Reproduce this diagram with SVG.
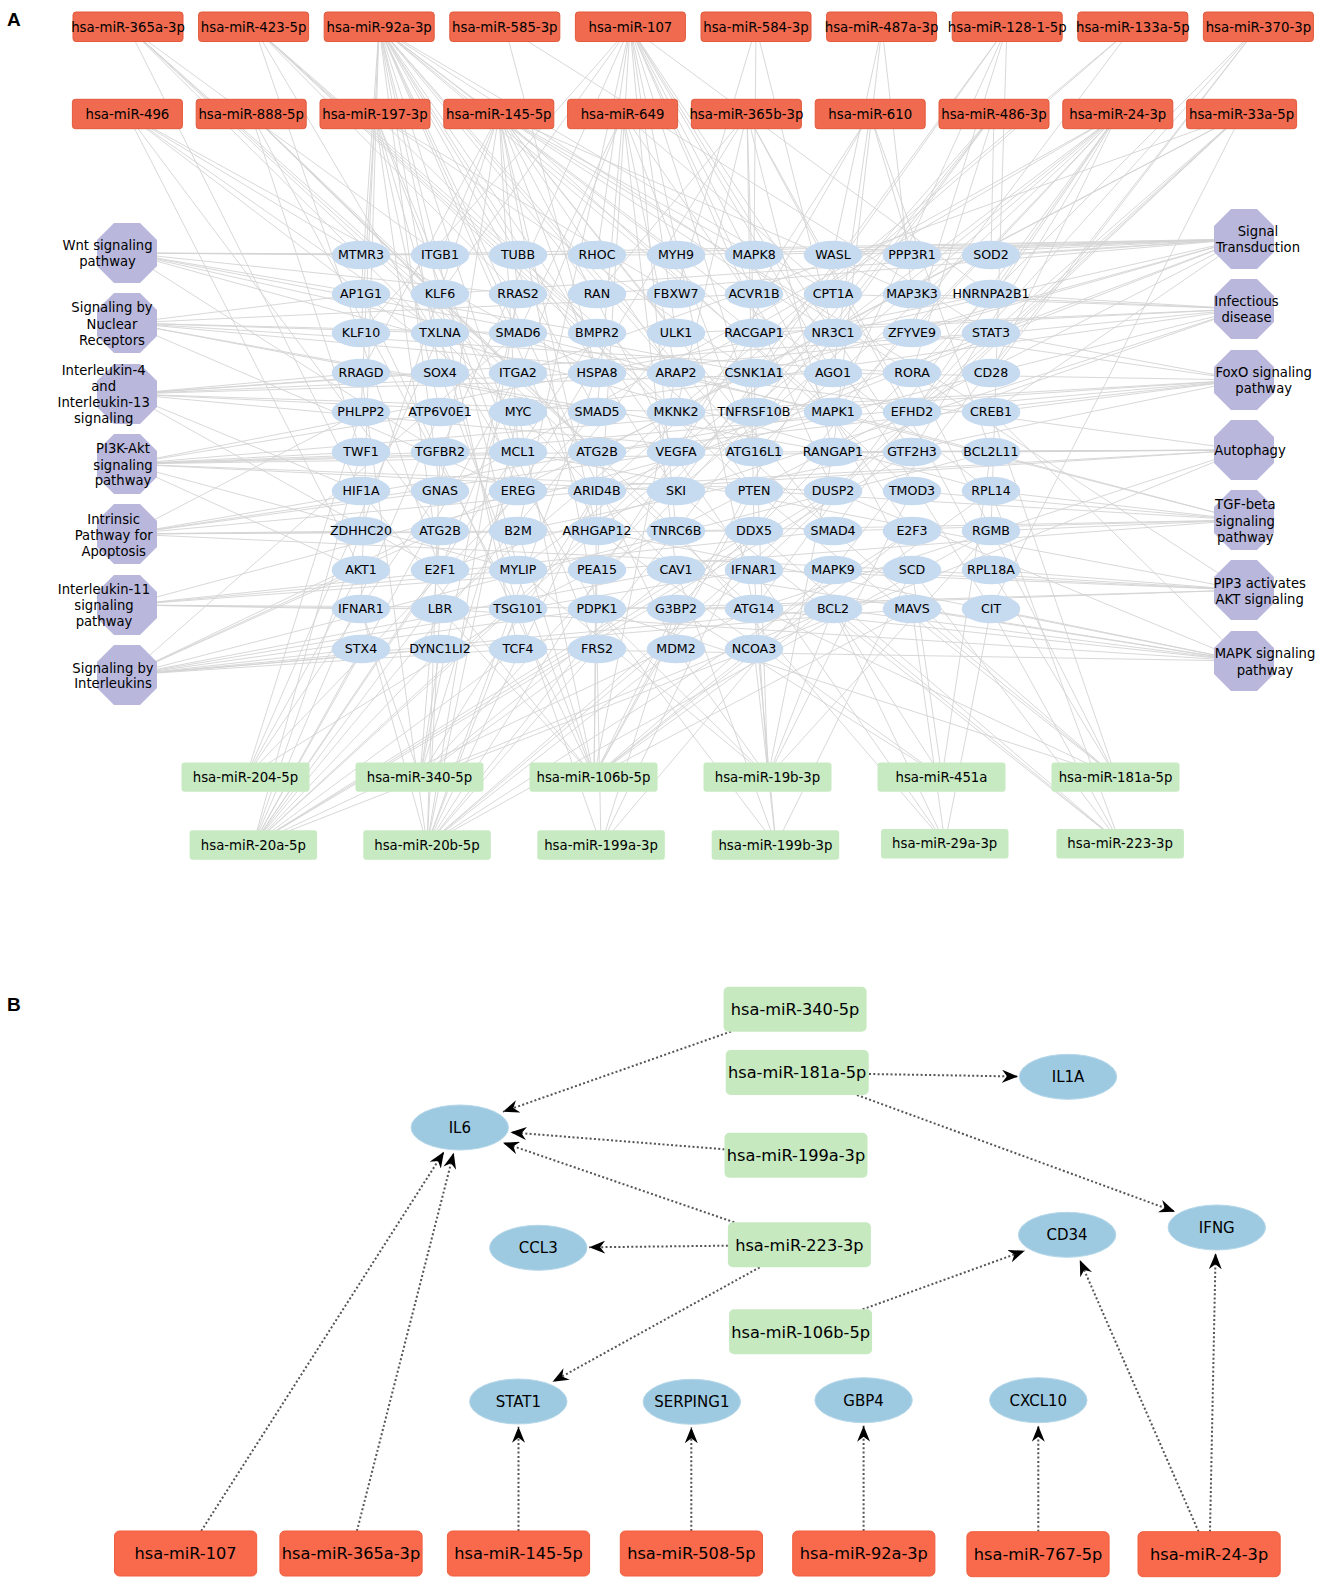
<svg xmlns="http://www.w3.org/2000/svg" xmlns:xlink="http://www.w3.org/1999/xlink" width="1325" height="1589" viewBox="0 0 1325 1589">
<style>
text{font-family:"DejaVu Sans","Liberation Sans",sans-serif;fill:#000;text-anchor:middle}
.lbl{font-family:"Liberation Sans",Arial,sans-serif;font-weight:bold;font-size:19px;text-anchor:start}
.red{fill:#ef6a4e;stroke:#e2593b;stroke-width:1}
.grn{fill:#c7eac2}
.gene{fill:#c6daf0}
.oct{fill:#b9b8dc}
.tm{font-size:13.3px}
.tg{font-size:12.6px}
.tp{font-size:13.2px}
.redB{fill:#f9694b;stroke:#ef5f40;stroke-width:1}
.grnB{fill:#c6e9c0}
.geneB{fill:#9ecae1;stroke:#b4d7e9;stroke-width:1}
.tmB{font-size:16.2px}
.tgB{font-size:15px}
.eB{fill:none;stroke:#555;stroke-width:2;stroke-dasharray:2 2.3;marker-end:url(#arr)}
</style>
<defs>
<polygon id="oct" points="-13,-30 13,-30 30,-13 30,13 13,30 -13,30 -30,13 -30,-13"/>
<marker id="arr" markerWidth="17" markerHeight="13" refX="16" refY="6.5" orient="auto" markerUnits="userSpaceOnUse"><path d="M0,0 L16,6.5 L0,13 L5,6.5 Z" fill="#000"/></marker>
</defs>
<rect width="1325" height="1589" fill="#fff"/>
<text class="lbl" x="7" y="26">A</text>
<text class="lbl" x="7" y="1011">B</text>

<g id="edges-A" fill="none" stroke="#d4d4d4" stroke-width="0.9">
<path d="M128,27L440,255M128,27L518,373M128,27L597,452M128,27L676,570M128,27L361,491M128,27L754,609"/>
<path d="M254,27L518,294M254,27L597,333M254,27L676,412M254,27L754,491M254,27L833,531M254,27L440,570M254,27L597,609"/>
<path d="M379,27L361,294M379,27L361,412M379,27L361,609M379,27L440,373M379,27L440,491M379,27L518,255M379,27L518,333M379,27L518,452M379,27L518,570M379,27L597,294M379,27L597,412M379,27L597,531M379,27L676,255M379,27L676,373M379,27L676,491M379,27L754,333M379,27L754,452M379,27L754,570M379,27L833,294M379,27L833,412M379,27L912,373M379,27L991,491M379,27L518,649M379,27L676,649"/>
<path d="M505,27L991,333M505,27L597,373"/>
<path d="M630,27L361,333M630,27L440,294M630,27L440,452M630,27L518,531M630,27L597,255M630,27L597,570M630,27L676,333M630,27L676,531M630,27L754,294M630,27L754,412M630,27L754,609M630,27L833,373M630,27L833,491M630,27L912,452M630,27L912,570M630,27L991,609M630,27L991,294"/>
<path d="M756,27L754,255M756,27L676,294M756,27L833,333"/>
<path d="M882,27L833,255M882,27L912,294M882,27L833,452"/>
<path d="M1007,27L754,373M1007,27L833,412M1007,27L676,491M1007,27L912,333M1007,27L991,531"/>
<path d="M1133,27L597,491M1133,27L754,531M1133,27L440,609"/>
<path d="M1258,27L912,412M1258,27L833,570M1258,27L676,609M1258,27L991,373"/>
<path d="M127,114L361,255M127,114L440,333M127,114L518,412M127,114L361,570M127,114L597,373M127,114L440,531"/>
<path d="M251,114L440,294M251,114L518,373M251,114L597,452M251,114L676,531M251,114L361,452M251,114L518,609"/>
<path d="M375,114L361,333M375,114L440,412M375,114L518,491M375,114L597,333M375,114L676,294M375,114L754,373M375,114L518,609M375,114L440,570M375,114L597,649"/>
<path d="M499,114L361,373M499,114L440,255M499,114L440,491M499,114L518,294M499,114L518,452M499,114L597,373M499,114L597,531M499,114L676,333M499,114L676,452M499,114L754,255M499,114L754,491M499,114L833,333M499,114L833,531M499,114L912,294M499,114L912,491M499,114L991,412M499,114L361,531M499,114L597,609"/>
<path d="M623,114L518,333M623,114L597,412M623,114L676,373M623,114L754,452M623,114L833,294M623,114L912,531M623,114L440,570M623,114L676,570"/>
<path d="M747,114L597,294M747,114L676,412M747,114L754,333M747,114L833,452M747,114L912,412M747,114L518,491M747,114L754,531M747,114L991,570"/>
<path d="M870,114L754,294M870,114L833,373M870,114L912,255M870,114L676,452M870,114L991,452"/>
<path d="M994,114L833,333M994,114L912,373M994,114L991,255M994,114L754,412M994,114L676,531M994,114L597,570"/>
<path d="M1118,114L991,294M1118,114L912,333M1118,114L833,412M1118,114L754,452M1118,114L676,491M1118,114L991,373M1118,114L912,452M1118,114L833,531M1118,114L597,531M1118,114L518,570M1118,114L754,609M1118,114L440,491M1118,114L676,373"/>
<path d="M1242,114L991,333M1242,114L912,412M1242,114L833,491M1242,114L754,570M1242,114L676,412M1242,114L597,452M1242,114L991,609M1242,114L518,373"/>
<path d="M246,777L361,570M246,777L440,491M246,777L518,609M246,777L597,412M246,777L361,412M246,777L440,333"/>
<path d="M420,777L361,609M420,777L440,531M420,777L518,452M420,777L597,491M420,777L676,570M420,777L754,412M420,777L440,649M420,777L597,649M420,777L833,609M420,777L518,294"/>
<path d="M594,777L361,491M594,777L440,609M594,777L518,531M594,777L597,570M594,777L676,609M594,777L754,491M594,777L833,570M594,777L912,531M594,777L991,491M594,777L597,452M594,777L676,373M594,777L754,649M594,777L518,412M594,777L833,333M594,777L440,373M594,777L912,609M594,777L361,294"/>
<path d="M768,777L676,649M768,777L754,570M768,777L833,609M768,777L912,491M768,777L597,609M768,777L518,570M768,777L754,373M768,777L991,531M768,777L833,452"/>
<path d="M942,777L833,609M942,777L912,570M942,777L676,609M942,777L991,452M942,777L597,531"/>
<path d="M1116,777L912,609M1116,777L991,570M1116,777L833,531M1116,777L754,491M1116,777L676,570M1116,777L991,412M1116,777L597,609M1116,777L912,373"/>
<path d="M253,845L361,649M253,845L440,649M253,845L518,649M253,845L361,531M253,845L440,570M253,845L518,491M253,845L597,531M253,845L676,452M253,845L754,531M253,845L597,333M253,845L833,491M253,845L440,412M253,845L676,333M253,845L912,452M253,845L518,373M253,845L361,452M253,845L754,609M253,845L754,649"/>
<path d="M427,845L361,609M427,845L440,609M427,845L518,609M427,845L597,649M427,845L676,649M427,845L440,452M427,845L518,412M427,845L597,491M427,845L676,531M427,845L754,570M427,845L833,491M427,845L912,531M427,845L361,373M427,845L518,294M427,845L754,333M427,845L991,531M427,845L597,373"/>
<path d="M601,845L597,649M601,845L676,609M601,845L518,609M601,845L754,531M601,845L833,570"/>
<path d="M776,845L754,609M776,845L676,570M776,845L754,649M776,845L912,570M776,845L597,609"/>
<path d="M945,843L754,570M945,843L833,609M945,843L912,609M945,843L676,531M945,843L991,609"/>
<path d="M1120,843L991,609M1120,843L912,570M1120,843L833,609M1120,843L754,531M1120,843L991,491M1120,843L676,491"/>
<path d="M127,253L361,255M127,253L440,255M127,253L518,294M127,253L676,255M127,253L597,333M127,253L754,373M127,253L833,412M127,253L440,452M127,253L991,491"/>
<path d="M127,323L361,294M127,323L440,333M127,323L518,333M127,323L597,412M127,323L676,373M127,323L754,294M127,323L912,373M127,323L518,491M127,323L833,452"/>
<path d="M127,394L361,373M127,394L440,373M127,394L518,412M127,394L597,373M127,394L676,412M127,394L754,452M127,394L833,373M127,394L991,333M127,394L440,570M127,394L361,491"/>
<path d="M127,464L361,452M127,464L440,452M127,464L518,452M127,464L597,452M127,464L676,491M127,464L754,412M127,464L833,491M127,464L912,452M127,464L991,294M127,464L518,570M127,464L361,570M127,464L440,412"/>
<path d="M127,534L361,531M127,534L440,491M127,534L518,531M127,534L597,491M127,534L676,452M127,534L754,531M127,534L833,412M127,534L912,570M127,534L361,412"/>
<path d="M127,605L361,609M127,605L440,609M127,605L518,570M127,605L597,570M127,605L754,609M127,605L833,531M127,605L991,373"/>
<path d="M127,675L361,649M127,675L440,649M127,675L518,649M127,675L597,609M127,675L676,570M127,675L754,570M127,675L833,609M127,675L912,609M127,675L991,452M127,675L440,531M127,675L361,570M127,675L676,412M127,675L518,333"/>
<path d="M1244,239L991,255M1244,239L912,255M1244,239L833,255M1244,239L754,255M1244,239L676,255M1244,239L597,294M1244,239L518,255M1244,239L440,294M1244,239L361,255M1244,239L833,333M1244,239L754,373M1244,239L676,452M1244,239L991,412M1244,239L597,491M1244,239L518,609M1244,239L912,333"/>
<path d="M1244,309L991,294M1244,309L912,294M1244,309L833,294M1244,309L754,333M1244,309L676,333M1244,309L597,373M1244,309L991,373M1244,309L833,452M1244,309L518,412M1244,309L440,570"/>
<path d="M1244,380L991,333M1244,380L912,333M1244,380L833,373M1244,380L754,412M1244,380L676,412M1244,380L597,452M1244,380L991,412M1244,380L518,531M1244,380L440,452"/>
<path d="M1244,450L991,452M1244,450L912,452M1244,450L833,452M1244,450L754,452M1244,450L676,373M1244,450L597,491M1244,450L518,491M1244,450L754,609M1244,450L754,649"/>
<path d="M1244,520L991,491M1244,520L912,491M1244,520L833,531M1244,520L754,491M1244,520L676,531M1244,520L597,570M1244,520L518,333M1244,520L991,531M1244,520L833,412"/>
<path d="M1244,590L991,570M1244,590L912,570M1244,590L833,570M1244,590L754,570M1244,590L676,609M1244,590L597,609M1244,590L912,373M1244,590L518,452"/>
<path d="M1244,661L991,609M1244,661L912,609M1244,661L833,609M1244,661L754,609M1244,661L676,570M1244,661L597,531M1244,661L518,649M1244,661L991,412M1244,661L833,491M1244,661L440,609"/>
</g>

<g id="mirna-top-A">
<g id="a-365a-3p"><rect class="red" x="73" y="12" width="110" height="29.5" rx="3"/><text class="tm" x="128" y="31.5">hsa-miR-365a-3p</text></g>
<g id="a-423-5p"><rect class="red" x="198.6" y="12" width="110" height="29.5" rx="3"/><text class="tm" x="253.6" y="31.5">hsa-miR-423-5p</text></g>
<g id="a-92a-3p"><rect class="red" x="324.2" y="12" width="110" height="29.5" rx="3"/><text class="tm" x="379.2" y="31.5">hsa-miR-92a-3p</text></g>
<g id="a-585-3p"><rect class="red" x="449.8" y="12" width="110" height="29.5" rx="3"/><text class="tm" x="504.8" y="31.5">hsa-miR-585-3p</text></g>
<g id="a-107"><rect class="red" x="575.4" y="12" width="110" height="29.5" rx="3"/><text class="tm" x="630.4" y="31.5">hsa-miR-107</text></g>
<g id="a-584-3p"><rect class="red" x="701" y="12" width="110" height="29.5" rx="3"/><text class="tm" x="756" y="31.5">hsa-miR-584-3p</text></g>
<g id="a-487a-3p"><rect class="red" x="826.6" y="12" width="110" height="29.5" rx="3"/><text class="tm" x="881.6" y="31.5">hsa-miR-487a-3p</text></g>
<g id="a-128-1-5p"><rect class="red" x="952.2" y="12" width="110" height="29.5" rx="3"/><text class="tm" x="1007.2" y="31.5">hsa-miR-128-1-5p</text></g>
<g id="a-133a-5p"><rect class="red" x="1077.8" y="12" width="110" height="29.5" rx="3"/><text class="tm" x="1132.8" y="31.5">hsa-miR-133a-5p</text></g>
<g id="a-370-3p"><rect class="red" x="1203.4" y="12" width="110" height="29.5" rx="3"/><text class="tm" x="1258.4" y="31.5">hsa-miR-370-3p</text></g>
<g id="a-496"><rect class="red" x="72.4" y="99.3" width="110" height="29.4" rx="3"/><text class="tm" x="127.4" y="118.7">hsa-miR-496</text></g>
<g id="a-888-5p"><rect class="red" x="196.2" y="99.3" width="110" height="29.4" rx="3"/><text class="tm" x="251.2" y="118.7">hsa-miR-888-5p</text></g>
<g id="a-197-3p"><rect class="red" x="320" y="99.3" width="110" height="29.4" rx="3"/><text class="tm" x="375" y="118.7">hsa-miR-197-3p</text></g>
<g id="a-145-5p"><rect class="red" x="443.8" y="99.3" width="110" height="29.4" rx="3"/><text class="tm" x="498.8" y="118.7">hsa-miR-145-5p</text></g>
<g id="a-649"><rect class="red" x="567.6" y="99.3" width="110" height="29.4" rx="3"/><text class="tm" x="622.6" y="118.7">hsa-miR-649</text></g>
<g id="a-365b-3p"><rect class="red" x="691.4" y="99.3" width="110" height="29.4" rx="3"/><text class="tm" x="746.4" y="118.7">hsa-miR-365b-3p</text></g>
<g id="a-610"><rect class="red" x="815.2" y="99.3" width="110" height="29.4" rx="3"/><text class="tm" x="870.2" y="118.7">hsa-miR-610</text></g>
<g id="a-486-3p"><rect class="red" x="939" y="99.3" width="110" height="29.4" rx="3"/><text class="tm" x="994" y="118.7">hsa-miR-486-3p</text></g>
<g id="a-24-3p"><rect class="red" x="1062.8" y="99.3" width="110" height="29.4" rx="3"/><text class="tm" x="1117.8" y="118.7">hsa-miR-24-3p</text></g>
<g id="a-33a-5p"><rect class="red" x="1186.6" y="99.3" width="110" height="29.4" rx="3"/><text class="tm" x="1241.6" y="118.7">hsa-miR-33a-5p</text></g>
</g>

<g id="mirna-bottom-A">
<g id="a-204-5p"><rect class="grn" x="181.5" y="762.4" width="128" height="29.4" rx="3"/><text class="tm" x="245.5" y="781.8">hsa-miR-204-5p</text></g>
<g id="a-340-5p"><rect class="grn" x="355.5" y="762.4" width="128" height="29.4" rx="3"/><text class="tm" x="419.5" y="781.8">hsa-miR-340-5p</text></g>
<g id="a-106b-5p"><rect class="grn" x="529.5" y="762.4" width="128" height="29.4" rx="3"/><text class="tm" x="593.5" y="781.8">hsa-miR-106b-5p</text></g>
<g id="a-19b-3p"><rect class="grn" x="703.5" y="762.4" width="128" height="29.4" rx="3"/><text class="tm" x="767.5" y="781.8">hsa-miR-19b-3p</text></g>
<g id="a-451a"><rect class="grn" x="877.5" y="762.4" width="128" height="29.4" rx="3"/><text class="tm" x="941.5" y="781.8">hsa-miR-451a</text></g>
<g id="a-181a-5p"><rect class="grn" x="1051.5" y="762.4" width="128" height="29.4" rx="3"/><text class="tm" x="1115.5" y="781.8">hsa-miR-181a-5p</text></g>
<g id="a-20a-5p"><rect class="grn" x="189.6" y="830.3" width="127.5" height="29.4" rx="3"/><text class="tm" x="253.4" y="849.7">hsa-miR-20a-5p</text></g>
<g id="a-20b-5p"><rect class="grn" x="363.3" y="830.3" width="127.5" height="29.4" rx="3"/><text class="tm" x="427" y="849.7">hsa-miR-20b-5p</text></g>
<g id="a-199a-3p"><rect class="grn" x="537.3" y="830.3" width="127.5" height="29.4" rx="3"/><text class="tm" x="601" y="849.7">hsa-miR-199a-3p</text></g>
<g id="a-199b-3p"><rect class="grn" x="711.7" y="830.3" width="127.5" height="29.4" rx="3"/><text class="tm" x="775.4" y="849.7">hsa-miR-199b-3p</text></g>
<g id="a-29a-3p"><rect class="grn" x="881" y="829" width="127.5" height="29.4" rx="3"/><text class="tm" x="944.7" y="848.4">hsa-miR-29a-3p</text></g>
<g id="a-223-3p"><rect class="grn" x="1056.4" y="829" width="127.5" height="29.4" rx="3"/><text class="tm" x="1120.1" y="848.4">hsa-miR-223-3p</text></g>
</g>

<g id="pathways-A">
<g id="p-wnt"><use href="#oct" x="127" y="253" class="oct"/><text class="tp" x="107.5" y="250.2">Wnt signaling</text><text class="tp" x="107.5" y="266.2">pathway</text></g>
<g id="p-nuclear"><use href="#oct" x="127" y="323" class="oct"/><text class="tp" x="112" y="312.2">Signaling by</text><text class="tp" x="112" y="328.5">Nuclear</text><text class="tp" x="112" y="344.5">Receptors</text></g>
<g id="p-il4"><use href="#oct" x="127" y="394" class="oct"/><text class="tp" x="103.7" y="374.5">Interleukin-4</text><text class="tp" x="103.7" y="390.5">and</text><text class="tp" x="103.7" y="406.8">Interleukin-13</text><text class="tp" x="103.7" y="422.8">signaling</text></g>
<g id="p-pi3k"><use href="#oct" x="127" y="464" class="oct"/><text class="tp" x="123" y="452.8">PI3K-Akt</text><text class="tp" x="123" y="469.5">signaling</text><text class="tp" x="123" y="485.2">pathway</text></g>
<g id="p-intrinsic"><use href="#oct" x="127" y="534" class="oct"/><text class="tp" x="113.7" y="523.5">Intrinsic</text><text class="tp" x="113.7" y="539.5">Pathway for</text><text class="tp" x="113.7" y="555.5">Apoptosis</text></g>
<g id="p-il11"><use href="#oct" x="127" y="605" class="oct"/><text class="tp" x="104" y="593.5">Interleukin-11</text><text class="tp" x="104" y="610.2">signaling</text><text class="tp" x="104" y="626.2">pathway</text></g>
<g id="p-interleukins"><use href="#oct" x="127" y="675" class="oct"/><text class="tp" x="113" y="672.8">Signaling by</text><text class="tp" x="113" y="687.8">Interleukins</text></g>
<g id="p-signal"><use href="#oct" x="1244" y="239" class="oct"/><text class="tp" x="1258" y="236.2">Signal</text><text class="tp" x="1258" y="251.8">Transduction</text></g>
<g id="p-infectious"><use href="#oct" x="1244" y="309" class="oct"/><text class="tp" x="1246.5" y="305.5">Infectious</text><text class="tp" x="1246.5" y="321.8">disease</text></g>
<g id="p-foxo"><use href="#oct" x="1244" y="380" class="oct"/><text class="tp" x="1263.7" y="377.2">FoxO signaling</text><text class="tp" x="1263.7" y="392.8">pathway</text></g>
<g id="p-autophagy"><use href="#oct" x="1244" y="450" class="oct"/><text class="tp" x="1250" y="454.8">Autophagy</text></g>
<g id="p-tgf"><use href="#oct" x="1244" y="520" class="oct"/><text class="tp" x="1245.3" y="508.5">TGF-beta</text><text class="tp" x="1245.3" y="525.5">signaling</text><text class="tp" x="1245.3" y="541.8">pathway</text></g>
<g id="p-pip3"><use href="#oct" x="1244" y="590" class="oct"/><text class="tp" x="1259.7" y="587.8">PIP3 activates</text><text class="tp" x="1259.7" y="603.8">AKT signaling</text></g>
<g id="p-mapk"><use href="#oct" x="1244" y="661" class="oct"/><text class="tp" x="1265" y="657.8">MAPK signaling</text><text class="tp" x="1265" y="674.5">pathway</text></g>
</g>

<g id="genes-A">
<g id="n-r0c0"><ellipse class="gene" cx="361" cy="255" rx="29.3" ry="14.3"/><text class="tg" x="361" y="259.4">MTMR3</text></g>
<g id="n-r0c1"><ellipse class="gene" cx="440" cy="255" rx="29.3" ry="14.3"/><text class="tg" x="440" y="259.4">ITGB1</text></g>
<g id="n-r0c2"><ellipse class="gene" cx="518" cy="255" rx="29.3" ry="14.3"/><text class="tg" x="518" y="259.4">TUBB</text></g>
<g id="n-r0c3"><ellipse class="gene" cx="597" cy="255" rx="29.3" ry="14.3"/><text class="tg" x="597" y="259.4">RHOC</text></g>
<g id="n-r0c4"><ellipse class="gene" cx="676" cy="255" rx="29.3" ry="14.3"/><text class="tg" x="676" y="259.4">MYH9</text></g>
<g id="n-r0c5"><ellipse class="gene" cx="754" cy="255" rx="29.3" ry="14.3"/><text class="tg" x="754" y="259.4">MAPK8</text></g>
<g id="n-r0c6"><ellipse class="gene" cx="833" cy="255" rx="29.3" ry="14.3"/><text class="tg" x="833" y="259.4">WASL</text></g>
<g id="n-r0c7"><ellipse class="gene" cx="912" cy="255" rx="29.3" ry="14.3"/><text class="tg" x="912" y="259.4">PPP3R1</text></g>
<g id="n-r0c8"><ellipse class="gene" cx="991" cy="255" rx="29.3" ry="14.3"/><text class="tg" x="991" y="259.4">SOD2</text></g>
<g id="n-r1c0"><ellipse class="gene" cx="361" cy="294" rx="29.3" ry="14.3"/><text class="tg" x="361" y="298.4">AP1G1</text></g>
<g id="n-r1c1"><ellipse class="gene" cx="440" cy="294" rx="29.3" ry="14.3"/><text class="tg" x="440" y="298.4">KLF6</text></g>
<g id="n-r1c2"><ellipse class="gene" cx="518" cy="294" rx="29.3" ry="14.3"/><text class="tg" x="518" y="298.4">RRAS2</text></g>
<g id="n-r1c3"><ellipse class="gene" cx="597" cy="294" rx="29.3" ry="14.3"/><text class="tg" x="597" y="298.4">RAN</text></g>
<g id="n-r1c4"><ellipse class="gene" cx="676" cy="294" rx="29.3" ry="14.3"/><text class="tg" x="676" y="298.4">FBXW7</text></g>
<g id="n-r1c5"><ellipse class="gene" cx="754" cy="294" rx="29.3" ry="14.3"/><text class="tg" x="754" y="298.4">ACVR1B</text></g>
<g id="n-r1c6"><ellipse class="gene" cx="833" cy="294" rx="29.3" ry="14.3"/><text class="tg" x="833" y="298.4">CPT1A</text></g>
<g id="n-r1c7"><ellipse class="gene" cx="912" cy="294" rx="29.3" ry="14.3"/><text class="tg" x="912" y="298.4">MAP3K3</text></g>
<g id="n-r1c8"><ellipse class="gene" cx="991" cy="294" rx="29.3" ry="14.3"/><text class="tg" x="991" y="298.4">HNRNPA2B1</text></g>
<g id="n-r2c0"><ellipse class="gene" cx="361" cy="333" rx="29.3" ry="14.3"/><text class="tg" x="361" y="337.4">KLF10</text></g>
<g id="n-r2c1"><ellipse class="gene" cx="440" cy="333" rx="29.3" ry="14.3"/><text class="tg" x="440" y="337.4">TXLNA</text></g>
<g id="n-r2c2"><ellipse class="gene" cx="518" cy="333" rx="29.3" ry="14.3"/><text class="tg" x="518" y="337.4">SMAD6</text></g>
<g id="n-r2c3"><ellipse class="gene" cx="597" cy="333" rx="29.3" ry="14.3"/><text class="tg" x="597" y="337.4">BMPR2</text></g>
<g id="n-r2c4"><ellipse class="gene" cx="676" cy="333" rx="29.3" ry="14.3"/><text class="tg" x="676" y="337.4">ULK1</text></g>
<g id="n-r2c5"><ellipse class="gene" cx="754" cy="333" rx="29.3" ry="14.3"/><text class="tg" x="754" y="337.4">RACGAP1</text></g>
<g id="n-r2c6"><ellipse class="gene" cx="833" cy="333" rx="29.3" ry="14.3"/><text class="tg" x="833" y="337.4">NR3C1</text></g>
<g id="n-r2c7"><ellipse class="gene" cx="912" cy="333" rx="29.3" ry="14.3"/><text class="tg" x="912" y="337.4">ZFYVE9</text></g>
<g id="n-r2c8"><ellipse class="gene" cx="991" cy="333" rx="29.3" ry="14.3"/><text class="tg" x="991" y="337.4">STAT3</text></g>
<g id="n-r3c0"><ellipse class="gene" cx="361" cy="373" rx="29.3" ry="14.3"/><text class="tg" x="361" y="377.4">RRAGD</text></g>
<g id="n-r3c1"><ellipse class="gene" cx="440" cy="373" rx="29.3" ry="14.3"/><text class="tg" x="440" y="377.4">SOX4</text></g>
<g id="n-r3c2"><ellipse class="gene" cx="518" cy="373" rx="29.3" ry="14.3"/><text class="tg" x="518" y="377.4">ITGA2</text></g>
<g id="n-r3c3"><ellipse class="gene" cx="597" cy="373" rx="29.3" ry="14.3"/><text class="tg" x="597" y="377.4">HSPA8</text></g>
<g id="n-r3c4"><ellipse class="gene" cx="676" cy="373" rx="29.3" ry="14.3"/><text class="tg" x="676" y="377.4">ARAP2</text></g>
<g id="n-r3c5"><ellipse class="gene" cx="754" cy="373" rx="29.3" ry="14.3"/><text class="tg" x="754" y="377.4">CSNK1A1</text></g>
<g id="n-r3c6"><ellipse class="gene" cx="833" cy="373" rx="29.3" ry="14.3"/><text class="tg" x="833" y="377.4">AGO1</text></g>
<g id="n-r3c7"><ellipse class="gene" cx="912" cy="373" rx="29.3" ry="14.3"/><text class="tg" x="912" y="377.4">RORA</text></g>
<g id="n-r3c8"><ellipse class="gene" cx="991" cy="373" rx="29.3" ry="14.3"/><text class="tg" x="991" y="377.4">CD28</text></g>
<g id="n-r4c0"><ellipse class="gene" cx="361" cy="412" rx="29.3" ry="14.3"/><text class="tg" x="361" y="416.4">PHLPP2</text></g>
<g id="n-r4c1"><ellipse class="gene" cx="440" cy="412" rx="29.3" ry="14.3"/><text class="tg" x="440" y="416.4">ATP6V0E1</text></g>
<g id="n-r4c2"><ellipse class="gene" cx="518" cy="412" rx="29.3" ry="14.3"/><text class="tg" x="518" y="416.4">MYC</text></g>
<g id="n-r4c3"><ellipse class="gene" cx="597" cy="412" rx="29.3" ry="14.3"/><text class="tg" x="597" y="416.4">SMAD5</text></g>
<g id="n-r4c4"><ellipse class="gene" cx="676" cy="412" rx="29.3" ry="14.3"/><text class="tg" x="676" y="416.4">MKNK2</text></g>
<g id="n-r4c5"><ellipse class="gene" cx="754" cy="412" rx="29.3" ry="14.3"/><text class="tg" x="754" y="416.4">TNFRSF10B</text></g>
<g id="n-r4c6"><ellipse class="gene" cx="833" cy="412" rx="29.3" ry="14.3"/><text class="tg" x="833" y="416.4">MAPK1</text></g>
<g id="n-r4c7"><ellipse class="gene" cx="912" cy="412" rx="29.3" ry="14.3"/><text class="tg" x="912" y="416.4">EFHD2</text></g>
<g id="n-r4c8"><ellipse class="gene" cx="991" cy="412" rx="29.3" ry="14.3"/><text class="tg" x="991" y="416.4">CREB1</text></g>
<g id="n-r5c0"><ellipse class="gene" cx="361" cy="452" rx="29.3" ry="14.3"/><text class="tg" x="361" y="456.4">TWF1</text></g>
<g id="n-r5c1"><ellipse class="gene" cx="440" cy="452" rx="29.3" ry="14.3"/><text class="tg" x="440" y="456.4">TGFBR2</text></g>
<g id="n-r5c2"><ellipse class="gene" cx="518" cy="452" rx="29.3" ry="14.3"/><text class="tg" x="518" y="456.4">MCL1</text></g>
<g id="n-r5c3"><ellipse class="gene" cx="597" cy="452" rx="29.3" ry="14.3"/><text class="tg" x="597" y="456.4">ATG2B</text></g>
<g id="n-r5c4"><ellipse class="gene" cx="676" cy="452" rx="29.3" ry="14.3"/><text class="tg" x="676" y="456.4">VEGFA</text></g>
<g id="n-r5c5"><ellipse class="gene" cx="754" cy="452" rx="29.3" ry="14.3"/><text class="tg" x="754" y="456.4">ATG16L1</text></g>
<g id="n-r5c6"><ellipse class="gene" cx="833" cy="452" rx="29.3" ry="14.3"/><text class="tg" x="833" y="456.4">RANGAP1</text></g>
<g id="n-r5c7"><ellipse class="gene" cx="912" cy="452" rx="29.3" ry="14.3"/><text class="tg" x="912" y="456.4">GTF2H3</text></g>
<g id="n-r5c8"><ellipse class="gene" cx="991" cy="452" rx="29.3" ry="14.3"/><text class="tg" x="991" y="456.4">BCL2L11</text></g>
<g id="n-r6c0"><ellipse class="gene" cx="361" cy="491" rx="29.3" ry="14.3"/><text class="tg" x="361" y="495.4">HIF1A</text></g>
<g id="n-r6c1"><ellipse class="gene" cx="440" cy="491" rx="29.3" ry="14.3"/><text class="tg" x="440" y="495.4">GNAS</text></g>
<g id="n-r6c2"><ellipse class="gene" cx="518" cy="491" rx="29.3" ry="14.3"/><text class="tg" x="518" y="495.4">EREG</text></g>
<g id="n-r6c3"><ellipse class="gene" cx="597" cy="491" rx="29.3" ry="14.3"/><text class="tg" x="597" y="495.4">ARID4B</text></g>
<g id="n-r6c4"><ellipse class="gene" cx="676" cy="491" rx="29.3" ry="14.3"/><text class="tg" x="676" y="495.4">SKI</text></g>
<g id="n-r6c5"><ellipse class="gene" cx="754" cy="491" rx="29.3" ry="14.3"/><text class="tg" x="754" y="495.4">PTEN</text></g>
<g id="n-r6c6"><ellipse class="gene" cx="833" cy="491" rx="29.3" ry="14.3"/><text class="tg" x="833" y="495.4">DUSP2</text></g>
<g id="n-r6c7"><ellipse class="gene" cx="912" cy="491" rx="29.3" ry="14.3"/><text class="tg" x="912" y="495.4">TMOD3</text></g>
<g id="n-r6c8"><ellipse class="gene" cx="991" cy="491" rx="29.3" ry="14.3"/><text class="tg" x="991" y="495.4">RPL14</text></g>
<g id="n-r7c0"><ellipse class="gene" cx="361" cy="531" rx="29.3" ry="14.3"/><text class="tg" x="361" y="535.4">ZDHHC20</text></g>
<g id="n-r7c1"><ellipse class="gene" cx="440" cy="531" rx="29.3" ry="14.3"/><text class="tg" x="440" y="535.4">ATG2B</text></g>
<g id="n-r7c2"><ellipse class="gene" cx="518" cy="531" rx="29.3" ry="14.3"/><text class="tg" x="518" y="535.4">B2M</text></g>
<g id="n-r7c3"><ellipse class="gene" cx="597" cy="531" rx="29.3" ry="14.3"/><text class="tg" x="597" y="535.4">ARHGAP12</text></g>
<g id="n-r7c4"><ellipse class="gene" cx="676" cy="531" rx="29.3" ry="14.3"/><text class="tg" x="676" y="535.4">TNRC6B</text></g>
<g id="n-r7c5"><ellipse class="gene" cx="754" cy="531" rx="29.3" ry="14.3"/><text class="tg" x="754" y="535.4">DDX5</text></g>
<g id="n-r7c6"><ellipse class="gene" cx="833" cy="531" rx="29.3" ry="14.3"/><text class="tg" x="833" y="535.4">SMAD4</text></g>
<g id="n-r7c7"><ellipse class="gene" cx="912" cy="531" rx="29.3" ry="14.3"/><text class="tg" x="912" y="535.4">E2F3</text></g>
<g id="n-r7c8"><ellipse class="gene" cx="991" cy="531" rx="29.3" ry="14.3"/><text class="tg" x="991" y="535.4">RGMB</text></g>
<g id="n-r8c0"><ellipse class="gene" cx="361" cy="570" rx="29.3" ry="14.3"/><text class="tg" x="361" y="574.4">AKT1</text></g>
<g id="n-r8c1"><ellipse class="gene" cx="440" cy="570" rx="29.3" ry="14.3"/><text class="tg" x="440" y="574.4">E2F1</text></g>
<g id="n-r8c2"><ellipse class="gene" cx="518" cy="570" rx="29.3" ry="14.3"/><text class="tg" x="518" y="574.4">MYLIP</text></g>
<g id="n-r8c3"><ellipse class="gene" cx="597" cy="570" rx="29.3" ry="14.3"/><text class="tg" x="597" y="574.4">PEA15</text></g>
<g id="n-r8c4"><ellipse class="gene" cx="676" cy="570" rx="29.3" ry="14.3"/><text class="tg" x="676" y="574.4">CAV1</text></g>
<g id="n-r8c5"><ellipse class="gene" cx="754" cy="570" rx="29.3" ry="14.3"/><text class="tg" x="754" y="574.4">IFNAR1</text></g>
<g id="n-r8c6"><ellipse class="gene" cx="833" cy="570" rx="29.3" ry="14.3"/><text class="tg" x="833" y="574.4">MAPK9</text></g>
<g id="n-r8c7"><ellipse class="gene" cx="912" cy="570" rx="29.3" ry="14.3"/><text class="tg" x="912" y="574.4">SCD</text></g>
<g id="n-r8c8"><ellipse class="gene" cx="991" cy="570" rx="29.3" ry="14.3"/><text class="tg" x="991" y="574.4">RPL18A</text></g>
<g id="n-r9c0"><ellipse class="gene" cx="361" cy="609" rx="29.3" ry="14.3"/><text class="tg" x="361" y="613.4">IFNAR1</text></g>
<g id="n-r9c1"><ellipse class="gene" cx="440" cy="609" rx="29.3" ry="14.3"/><text class="tg" x="440" y="613.4">LBR</text></g>
<g id="n-r9c2"><ellipse class="gene" cx="518" cy="609" rx="29.3" ry="14.3"/><text class="tg" x="518" y="613.4">TSG101</text></g>
<g id="n-r9c3"><ellipse class="gene" cx="597" cy="609" rx="29.3" ry="14.3"/><text class="tg" x="597" y="613.4">PDPK1</text></g>
<g id="n-r9c4"><ellipse class="gene" cx="676" cy="609" rx="29.3" ry="14.3"/><text class="tg" x="676" y="613.4">G3BP2</text></g>
<g id="n-r9c5"><ellipse class="gene" cx="754" cy="609" rx="29.3" ry="14.3"/><text class="tg" x="754" y="613.4">ATG14</text></g>
<g id="n-r9c6"><ellipse class="gene" cx="833" cy="609" rx="29.3" ry="14.3"/><text class="tg" x="833" y="613.4">BCL2</text></g>
<g id="n-r9c7"><ellipse class="gene" cx="912" cy="609" rx="29.3" ry="14.3"/><text class="tg" x="912" y="613.4">MAVS</text></g>
<g id="n-r9c8"><ellipse class="gene" cx="991" cy="609" rx="29.3" ry="14.3"/><text class="tg" x="991" y="613.4">CIT</text></g>
<g id="n-r10c0"><ellipse class="gene" cx="361" cy="649" rx="29.3" ry="14.3"/><text class="tg" x="361" y="653.4">STX4</text></g>
<g id="n-r10c1"><ellipse class="gene" cx="440" cy="649" rx="29.3" ry="14.3"/><text class="tg" x="440" y="653.4">DYNC1LI2</text></g>
<g id="n-r10c2"><ellipse class="gene" cx="518" cy="649" rx="29.3" ry="14.3"/><text class="tg" x="518" y="653.4">TCF4</text></g>
<g id="n-r10c3"><ellipse class="gene" cx="597" cy="649" rx="29.3" ry="14.3"/><text class="tg" x="597" y="653.4">FRS2</text></g>
<g id="n-r10c4"><ellipse class="gene" cx="676" cy="649" rx="29.3" ry="14.3"/><text class="tg" x="676" y="653.4">MDM2</text></g>
<g id="n-r10c5"><ellipse class="gene" cx="754" cy="649" rx="29.3" ry="14.3"/><text class="tg" x="754" y="653.4">NCOA3</text></g>
</g>

<g id="edges-B">
<line class="eB" x1="731" y1="1031.5" x2="503" y2="1111.7"/>
<line class="eB" x1="869" y1="1074" x2="1018" y2="1076.5"/>
<line class="eB" x1="857" y1="1095" x2="1175" y2="1211.7"/>
<line class="eB" x1="724.5" y1="1149.3" x2="510.5" y2="1132.3"/>
<line class="eB" x1="734.2" y1="1222.3" x2="503" y2="1142.7"/>
<line class="eB" x1="727.9" y1="1245.7" x2="589.2" y2="1247.3"/>
<line class="eB" x1="759.7" y1="1267.3" x2="552.6" y2="1381.7"/>
<line class="eB" x1="862.7" y1="1309.3" x2="1024.7" y2="1250.7"/>
<line class="eB" x1="201.2" y1="1531" x2="444" y2="1151.7"/>
<line class="eB" x1="356.9" y1="1531" x2="453.7" y2="1152.7"/>
<line class="eB" x1="518.5" y1="1531" x2="518.5" y2="1426.7"/>
<line class="eB" x1="691.3" y1="1531" x2="691.3" y2="1427.3"/>
<line class="eB" x1="863.6" y1="1531" x2="863.6" y2="1425.7"/>
<line class="eB" x1="1038.3" y1="1531.7" x2="1038.3" y2="1425.7"/>
<line class="eB" x1="1198.6" y1="1531.7" x2="1079.8" y2="1260"/>
<line class="eB" x1="1210" y1="1531.7" x2="1215.6" y2="1253.3"/>
</g>

<g id="nodes-B">
<g id="b-340-5p"><rect class="grnB" x="723.6" y="986.7" width="143" height="45" rx="5"/><text class="tmB" x="795.1" y="1014.9">hsa-miR-340-5p</text></g>
<g id="b-181a-5p"><rect class="grnB" x="725.7" y="1050" width="143" height="45" rx="5"/><text class="tmB" x="797.2" y="1078.2">hsa-miR-181a-5p</text></g>
<g id="b-199a-3p"><rect class="grnB" x="724.5" y="1132.7" width="143" height="45" rx="5"/><text class="tmB" x="796" y="1160.9">hsa-miR-199a-3p</text></g>
<g id="b-223-3p"><rect class="grnB" x="727.9" y="1222.3" width="143" height="45" rx="5"/><text class="tmB" x="799.4" y="1250.5">hsa-miR-223-3p</text></g>
<g id="b-106b-5p"><rect class="grnB" x="729.1" y="1309.3" width="143" height="45" rx="5"/><text class="tmB" x="800.6" y="1337.5">hsa-miR-106b-5p</text></g>
<g id="b-IL6"><ellipse class="geneB" cx="459.8" cy="1127.5" rx="48.7" ry="22.5"/><text class="tgB" x="459.8" y="1132.8">IL6</text></g>
<g id="b-IL1A"><ellipse class="geneB" cx="1068" cy="1076.8" rx="48.7" ry="22.5"/><text class="tgB" x="1068" y="1082.1">IL1A</text></g>
<g id="b-CCL3"><ellipse class="geneB" cx="538.3" cy="1247.8" rx="48.7" ry="22.5"/><text class="tgB" x="538.3" y="1253.1">CCL3</text></g>
<g id="b-CD34"><ellipse class="geneB" cx="1067.1" cy="1234.8" rx="48.7" ry="22.5"/><text class="tgB" x="1067.1" y="1240.1">CD34</text></g>
<g id="b-IFNG"><ellipse class="geneB" cx="1216.8" cy="1227.5" rx="48.7" ry="22.5"/><text class="tgB" x="1216.8" y="1232.8">IFNG</text></g>
<g id="b-STAT1"><ellipse class="geneB" cx="518.3" cy="1401.5" rx="48.7" ry="22.5"/><text class="tgB" x="518.3" y="1406.8">STAT1</text></g>
<g id="b-SERPING1"><ellipse class="geneB" cx="691.8" cy="1401.8" rx="48.7" ry="22.5"/><text class="tgB" x="691.8" y="1407.1">SERPING1</text></g>
<g id="b-GBP4"><ellipse class="geneB" cx="863.6" cy="1400.2" rx="48.7" ry="22.5"/><text class="tgB" x="863.6" y="1405.5">GBP4</text></g>
<g id="b-CXCL10"><ellipse class="geneB" cx="1038.3" cy="1400.2" rx="48.7" ry="22.5"/><text class="tgB" x="1038.3" y="1405.5">CXCL10</text></g>
<g id="b-107"><rect class="redB" x="114.5" y="1531" width="142.2" height="45" rx="5"/><text class="tmB" x="185.6" y="1559.2">hsa-miR-107</text></g>
<g id="b-365a-3p"><rect class="redB" x="279.9" y="1531" width="142.2" height="45" rx="5"/><text class="tmB" x="351" y="1559.2">hsa-miR-365a-3p</text></g>
<g id="b-145-5p"><rect class="redB" x="447.4" y="1531" width="142.2" height="45" rx="5"/><text class="tmB" x="518.5" y="1559.2">hsa-miR-145-5p</text></g>
<g id="b-508-5p"><rect class="redB" x="620.3" y="1531" width="142.2" height="45" rx="5"/><text class="tmB" x="691.4" y="1559.2">hsa-miR-508-5p</text></g>
<g id="b-92a-3p"><rect class="redB" x="792.7" y="1531" width="142.2" height="45" rx="5"/><text class="tmB" x="863.8" y="1559.2">hsa-miR-92a-3p</text></g>
<g id="b-767-5p"><rect class="redB" x="966.9" y="1531.7" width="142.2" height="45" rx="5"/><text class="tmB" x="1038" y="1559.9">hsa-miR-767-5p</text></g>
<g id="b-24-3p"><rect class="redB" x="1138" y="1531.7" width="142.2" height="45" rx="5"/><text class="tmB" x="1209.1" y="1559.9">hsa-miR-24-3p</text></g>
</g>
</svg>
